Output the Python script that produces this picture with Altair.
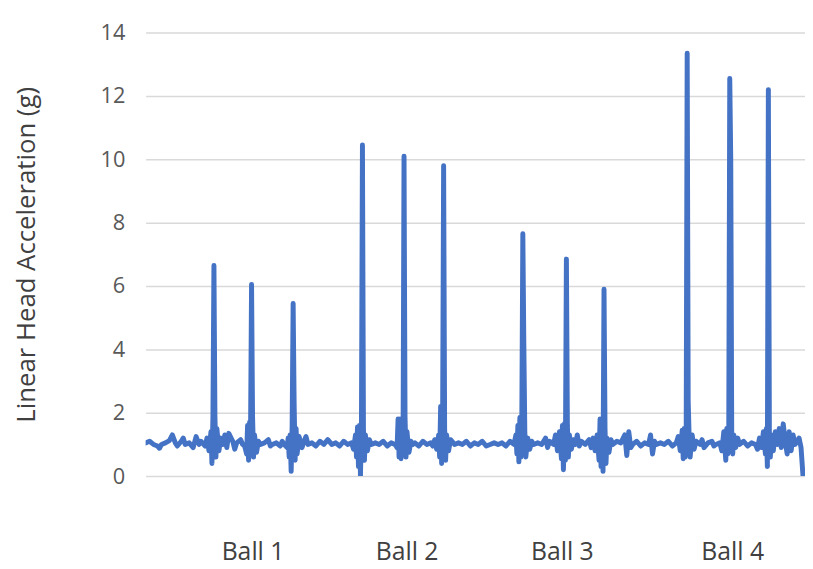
import json
import altair as alt
import pandas as pd

# Time (arbitrary units) and linear head acceleration (g)
t = [0, 1, 2, 3, 3.5, 4, 5, 6, 6.75, 7.5, 8, 9, 9.5, 10, 11, 12, 12.75, 13.5, 14, 15, 15.5,
     16, 16.5, 16.75, 17, 17.25, 17.5, 17.75, 18, 18.5, 19,
     19.5, 20, 20.5, 21, 22, 22.5, 23, 24, 24.5,
     25, 25.5, 25.75, 26, 26.25, 26.5, 26.75, 27, 27.25, 27.5, 28, 28.5,
     29, 30, 31, 31.5, 32, 33, 34, 34.5, 35, 35.75,
     36, 36.25, 36.5, 36.75, 37, 37.25, 37.5, 37.75, 38, 38.25, 38.75, 39.5,
     40, 40.5, 41, 42, 43, 44, 45, 46, 47, 48, 49, 50, 51, 52,
     52.5, 53, 53.25, 53.5, 53.75, 54, 54.25, 54.5, 54.75, 55, 55.25, 55.5, 56, 56.5,
     57, 58, 59, 60, 61, 62, 63, 63.5,
     63.75, 64, 64.25, 64.5, 64.75, 65, 65.25, 65.5, 65.75, 66, 66.5, 67,
     67.5, 68, 69, 70, 71, 72, 72.5, 73, 73.5,
     74, 74.25, 74.5, 74.75, 75, 75.25, 75.5, 75.75, 76, 76.5, 77,
     78, 79, 80, 81, 82, 83, 84, 85, 86, 87, 88, 89, 90, 91, 92, 93,
     93.5, 93.75, 94, 94.25, 94.5, 94.75, 95, 95.25, 95.5, 95.75, 96, 96.5, 97,
     97.5, 98, 99, 100, 101, 101.5, 102, 103, 103.5, 104,
     104.5, 105, 105.25, 105.5, 105.75, 106, 106.25, 106.5, 106.75, 107, 107.5, 108,
     108.5, 109, 109.5, 110, 111, 112, 112.5, 113, 113.5,
     114, 114.5, 114.75, 115, 115.25, 115.5, 115.75, 116, 116.25, 116.5, 117, 117.5,
     118, 119, 120, 121, 121.5, 122, 122.5, 123, 124, 125, 126, 127, 127.5, 128, 128.5,
     129, 130, 131, 132, 133, 134,
     134.5, 135, 135.5, 135.75, 136, 136.25, 136.5, 136.75, 137, 137.25, 137.5, 138, 138.5,
     139, 140, 140.5, 141, 142, 143, 143.5, 144, 145,
     145.5, 146, 146.5, 146.75, 147, 147.25, 147.5, 147.75, 148, 148.25, 148.5, 149, 149.5,
     150, 151, 152, 153, 154, 154.5, 155, 155.5,
     156, 156.5, 156.75, 157, 157.25, 157.5, 157.75, 158, 158.5, 159,
     159.5, 160, 160.5, 161, 161.5, 162, 162.5, 163, 163.5, 164, 165, 165.5, 166]

g = [1.05, 1.1, 1.0, 0.95, 0.88, 1.0, 1.05, 1.12, 1.3, 1.05, 0.95, 1.1, 1.2, 1.0, 1.05, 0.9, 1.25, 1.0, 1.1, 0.95, 1.2,
     0.8, 1.4, 0.4, 1.9, 6.65, 1.9, 0.6, 1.5, 0.8, 1.2,
     1.0, 1.3, 0.9, 1.35, 1.1, 0.85, 1.05, 1.15, 1.0,
     0.95, 0.7, 1.6, 0.5, 1.7, 1.4, 6.05, 1.9, 0.6, 1.3, 0.75, 1.1,
     1.0, 1.05, 1.15, 0.95, 1.0, 1.05, 0.95, 1.1, 1.0, 0.9,
     1.2, 0.6, 1.3, 0.15, 1.6, 5.45, 2.3, 0.5, 1.5, 0.7, 1.25, 0.9,
     1.1, 1.25, 1.0, 1.05, 0.95, 1.1, 1.0, 1.15, 1.0, 1.05, 0.95, 1.1, 1.0, 1.05,
     0.85, 1.3, 0.6, 1.55, 0.3, 1.6, 0.0, 1.6, 10.45, 1.5, 0.5, 1.3, 0.8, 1.15,
     1.0, 1.05, 1.0, 1.1, 0.95, 1.05, 1.0, 0.9,
     1.8, 0.6, 1.8, 0.55, 1.75, 0.7, 10.1, 1.9, 0.6, 1.4, 0.75, 1.1,
     1.0, 1.05, 0.95, 1.1, 1.0, 1.05, 0.95, 1.15, 0.85,
     1.3, 0.6, 2.2, 0.4, 1.8, 9.8, 1.5, 0.5, 1.3, 0.8, 1.15,
     1.0, 1.05, 1.0, 1.1, 0.95, 1.05, 1.0, 1.1, 0.95, 1.0, 1.05, 1.0, 1.05, 0.95, 1.1, 1.0,
     1.3, 0.7, 1.6, 0.45, 1.85, 0.6, 1.9, 7.65, 4.15, 1.4, 0.6, 1.2, 0.85,
     1.1, 1.0, 1.05, 1.0, 1.2, 0.9, 1.1, 1.0, 1.3, 0.8,
     1.4, 0.55, 1.6, 0.2, 1.65, 0.5, 6.85, 1.6, 0.6, 1.3, 0.85, 1.15,
     1.0, 1.3, 0.95, 1.1, 1.0, 1.15, 0.9, 1.2, 0.8,
     1.3, 0.5, 1.8, 0.3, 1.6, 0.15, 5.9, 1.5, 0.4, 1.2, 0.75, 1.15,
     1.0, 1.1, 1.05, 1.3, 0.65, 1.4, 0.9, 1.0, 1.1, 0.95, 1.05, 1.0, 1.3, 0.7, 1.1,
     1.0, 1.05, 1.0, 1.1, 0.95, 1.05,
     1.25, 0.8, 1.45, 0.55, 1.5, 0.6, 1.3, 13.35, 2.4, 1.2, 0.6, 1.3, 0.85,
     1.1, 1.0, 1.15, 0.9, 1.05, 1.1, 0.95, 1.0, 1.05,
     0.8, 1.4, 0.5, 1.5, 0.7, 1.4, 12.55, 10.0, 1.3, 0.7, 1.3, 0.9, 1.2,
     1.0, 1.1, 0.95, 1.05, 1.0, 0.85, 1.2, 0.9,
     1.4, 0.7, 1.5, 0.3, 12.2, 1.4, 0.6, 1.3, 0.8, 1.4,
     1.0, 1.5, 0.9, 1.65, 1.1, 0.7, 1.4, 0.8, 1.3, 1.0, 1.2, 0.9, 0.0]

ball_labels = ["Ball 1", "Ball 2", "Ball 3", "Ball 4"]
ball_t = [27, 65.9, 105.1, 148.1]
y_ticks = [0, 2, 4, 6, 8, 10, 12, 14]

df = pd.DataFrame({"t": t, "g": g})

label_expr = "{}[indexof({}, datum.value)]".format(json.dumps(ball_labels), json.dumps(ball_t))

font = "Open Sans"

chart = alt.Chart(df).mark_line(
    color="#4472C4", strokeWidth=5, clip=True, strokeJoin="round", strokeCap="round"
).encode(
    x=alt.X("t:Q", scale=alt.Scale(domain=[0, 166.5], nice=False, zero=False),
            axis=alt.Axis(values=ball_t, labelExpr=label_expr, title=None, grid=False,
                          domain=False, ticks=False, labelPadding=84,
                          labelBaseline="alphabetic", labelFontSize=25,
                          labelColor="#404040", labelFont=font, labelFlush=False)),
    y=alt.Y("g:Q", scale=alt.Scale(domain=[0, 14], nice=False),
            axis=alt.Axis(values=y_ticks, title="Linear Head Acceleration (g)",
                          titleFontSize=26, titleFont=font, titleColor="#404040",
                          titleFontWeight="normal", titlePadding=61,
                          labelFontSize=22, labelFont=font, labelColor="#595959",
                          labelPadding=21, domain=False, ticks=False,
                          gridColor="#d9d9d9", gridWidth=1.5)),
).properties(
    width=666, height=448,
    autosize=alt.AutoSizeParams(type="none"),
    padding={"left": 139, "top": 22, "right": 0, "bottom": 92},
).configure_view(stroke=None)

chart.save("out.html", embed_options={"renderer": "svg", "actions": False})
